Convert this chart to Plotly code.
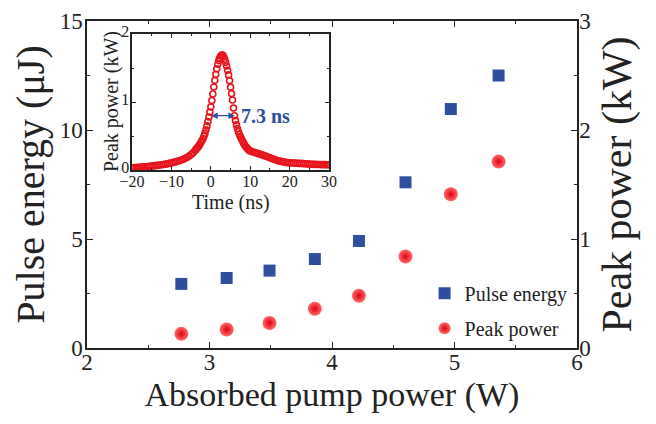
import plotly.graph_objects as go

# Main data
pump_power = [2.77, 3.14, 3.49, 3.86, 4.22, 4.60, 4.97, 5.36]
pulse_energy = [2.94, 3.21, 3.55, 4.08, 4.91, 7.60, 10.96, 12.50]
peak_power = [0.13, 0.17, 0.23, 0.36, 0.48, 0.84, 1.41, 1.71]

# Inset pulse trace (time in ns, power in kW)
time_ns = [
    -20, -19.5, -19, -18.5, -18, -17.5, -17, -16.5, -16, -15.5, -15, -14.5, -14, -13.5,
    -13, -12.5, -12, -11.5, -11, -10.5, -10, -9.5, -9, -8.5, -8, -7.5, -7, -6.5, -6,
    -5.5, -5, -4.5,
    -4.0, -3.75, -3.5, -3.25, -3.0, -2.75, -2.5, -2.25, -2.0, -1.75, -1.5, -1.25, -1.0,
    -0.75, -0.5, -0.25, 0.0, 0.25, 0.5, 0.75, 1.0, 1.25, 1.5, 1.75, 2.0, 2.25, 2.5, 2.75,
    3.0, 3.25, 3.5, 3.75, 4.0, 4.25, 4.5, 4.75, 5.0, 5.25, 5.5, 5.75, 6.0, 6.25, 6.5, 6.75,
    7.0, 7.25, 7.5, 7.75, 8.0, 8.25, 8.5, 8.75, 9.0, 9.25, 9.5, 9.75, 10.0,
    10.5, 11, 11.5, 12, 12.5, 13, 13.5, 14, 14.5, 15, 15.5, 16, 16.5, 17, 17.5, 18, 18.5,
    19, 19.5, 20, 20.5, 21, 21.5, 22, 22.5, 23, 23.5, 24, 24.5, 25, 25.5, 26, 26.5, 27,
    27.5, 28, 28.5, 29, 29.5, 30,
]
pulse_kw = [
    0.035, 0.037, 0.039, 0.041, 0.043, 0.045, 0.047, 0.050, 0.053, 0.056, 0.059, 0.062,
    0.066, 0.070, 0.074, 0.078, 0.083, 0.088, 0.093, 0.099, 0.106, 0.114, 0.121, 0.129,
    0.138, 0.148, 0.160, 0.173, 0.188, 0.206, 0.228, 0.254,
    0.290, 0.306, 0.323, 0.341, 0.360, 0.384, 0.410, 0.434, 0.460, 0.497, 0.540, 0.592,
    0.650, 0.713, 0.780, 0.853, 0.930, 1.024, 1.120, 1.222, 1.320, 1.408, 1.490, 1.556,
    1.610, 1.650, 1.678, 1.692, 1.690, 1.665, 1.630, 1.584, 1.530, 1.468, 1.400, 1.315,
    1.220, 1.125, 1.030, 0.912, 0.800, 0.728, 0.665, 0.610, 0.563, 0.524, 0.492, 0.460,
    0.430, 0.403, 0.378, 0.355, 0.335, 0.318, 0.303, 0.290, 0.280,
    0.270, 0.261, 0.252, 0.243, 0.234, 0.224, 0.214, 0.203, 0.192, 0.181, 0.170, 0.159,
    0.149, 0.140, 0.132, 0.125, 0.119, 0.114, 0.110, 0.107, 0.105, 0.104, 0.103, 0.101,
    0.099, 0.097, 0.095, 0.093, 0.091, 0.089, 0.087, 0.085, 0.084, 0.083, 0.082, 0.081,
    0.080, 0.080, 0.079, 0.079,
]

fwhm_label = "7.3 ns"
fwhm_start = -0.3
fwhm_end = 6.1
fwhm_level = 0.80

FONT = "Liberation Serif, Times New Roman, DejaVu Serif, serif"
BLUE = "#2d4f9e"
RED = "#e8141c"
AX = "#222222"

fig = go.Figure()

fig.add_trace(go.Scatter(
    x=pump_power, y=pulse_energy, mode="markers", name="Pulse energy",
    legendgroup="a",
    marker=dict(symbol="square", size=12, color=BLUE, line=dict(width=0)),
    xaxis="x", yaxis="y",
))
fig.add_trace(go.Scatter(
    x=pump_power, y=peak_power, mode="markers", name="Peak power",
    legendgroup="b",
    marker=dict(symbol="circle", size=14, color="#ff6a6a",
                gradient=dict(type="radial", color="#e0000f"), line=dict(width=0)),
    xaxis="x", yaxis="y2",
))
fig.add_trace(go.Scatter(
    x=time_ns, y=pulse_kw, mode="markers", showlegend=False,
    marker=dict(symbol="circle-open", size=6, color=RED, line=dict(width=1.6, color=RED)),
    xaxis="x3", yaxis="y3",
))

common = dict(showline=True, linecolor=AX, linewidth=1.5, ticks="inside",
              tickcolor=AX, tickwidth=1.3, showgrid=False, zeroline=False,
              automargin=False)

# page body has an 8 px margin: figure is sized so that it fills the 656x424 window
fig.update_layout(
    width=648, height=416,
    margin=dict(l=79, r=79, t=13, b=76),
    paper_bgcolor="white", plot_bgcolor="white",
    font=dict(family=FONT, color=AX),
    xaxis=dict(range=[2, 6], tickvals=[2, 3, 4, 5, 6], ticklen=6, mirror="ticks",
               minor=dict(dtick=0.5, tick0=2, ticks="inside", ticklen=3, tickcolor=AX),
               tickfont=dict(size=23, family=FONT), ticklabelstandoff=-7,
               title=dict(text="Absorbed pump power (W)", font=dict(size=34, family=FONT), standoff=8),
               **common),
    yaxis=dict(range=[0, 15], tickvals=[0, 5, 10, 15], ticklen=6,
               minor=dict(dtick=2.5, tick0=0, ticks="inside", ticklen=3, tickcolor=AX),
               tickfont=dict(size=23, family=FONT), ticklabelstandoff=-2,
               title=dict(text="Pulse energy (μJ)", font=dict(size=40, family=FONT), standoff=6),
               **common),
    yaxis2=dict(range=[0, 3], tickvals=[0, 1, 2, 3], ticklen=6, overlaying="y", side="right",
                minor=dict(dtick=0.5, tick0=0, ticks="inside", ticklen=3, tickcolor=AX),
                tickfont=dict(size=23, family=FONT), ticklabelstandoff=-4,
                title=dict(text="Peak power (kW)", font=dict(size=42, family=FONT), standoff=12),
                **common),
    xaxis3=dict(domain=[0.092, 0.494], anchor="y3", range=[-20, 30],
                tickvals=[-20, -10, 0, 10, 20, 30], ticklen=4, mirror="ticks",
                minor=dict(dtick=5, tick0=0, ticks="inside", ticklen=2, tickcolor=AX),
                tickfont=dict(size=16, family=FONT), ticklabelstandoff=-4,
                **common),
    yaxis3=dict(domain=[0.544, 0.960], anchor="x3", range=[0, 2],
                tickvals=[0, 1, 2], ticklen=4, mirror="ticks",
                minor=dict(dtick=0.5, tick0=0, ticks="inside", ticklen=2, tickcolor=AX),
                tickfont=dict(size=16, family=FONT), ticklabelstandoff=-2, ticklabelshift=-3,
                **common),
    legend=dict(x=0.689, y=0.114, xanchor="left", yanchor="middle",
                bgcolor="rgba(0,0,0,0)", font=dict(size=20, family=FONT),
                tracegroupgap=6, itemsizing="constant"),
    annotations=[
        dict(x=fwhm_end, y=fwhm_level, ax=fwhm_start, ay=fwhm_level,
             xref="x3", yref="y3", axref="x3", ayref="y3", text="",
             showarrow=True, arrowhead=2, arrowside="end+start", arrowsize=1,
             arrowwidth=1.3, arrowcolor=BLUE),
        dict(x=7.2, y=fwhm_level, xref="x3", yref="y3", text="<b>" + fwhm_label + "</b>",
             showarrow=False, xanchor="left", yanchor="middle",
             font=dict(size=20, family=FONT, color=BLUE)),
        # inset axis titles
        dict(x=0.293, y=0.444, xref="paper", yref="paper", text="Time (ns)",
             showarrow=False, xanchor="center", yanchor="middle",
             font=dict(size=20, family=FONT, color=AX)),
        dict(x=0.049, y=0.752, xref="paper", yref="paper", text="Peak power (kW)",
             textangle=-90, showarrow=False, xanchor="center", yanchor="middle",
             font=dict(size=20, family=FONT, color=AX)),
    ],
)

fig.write_html("out.html")
